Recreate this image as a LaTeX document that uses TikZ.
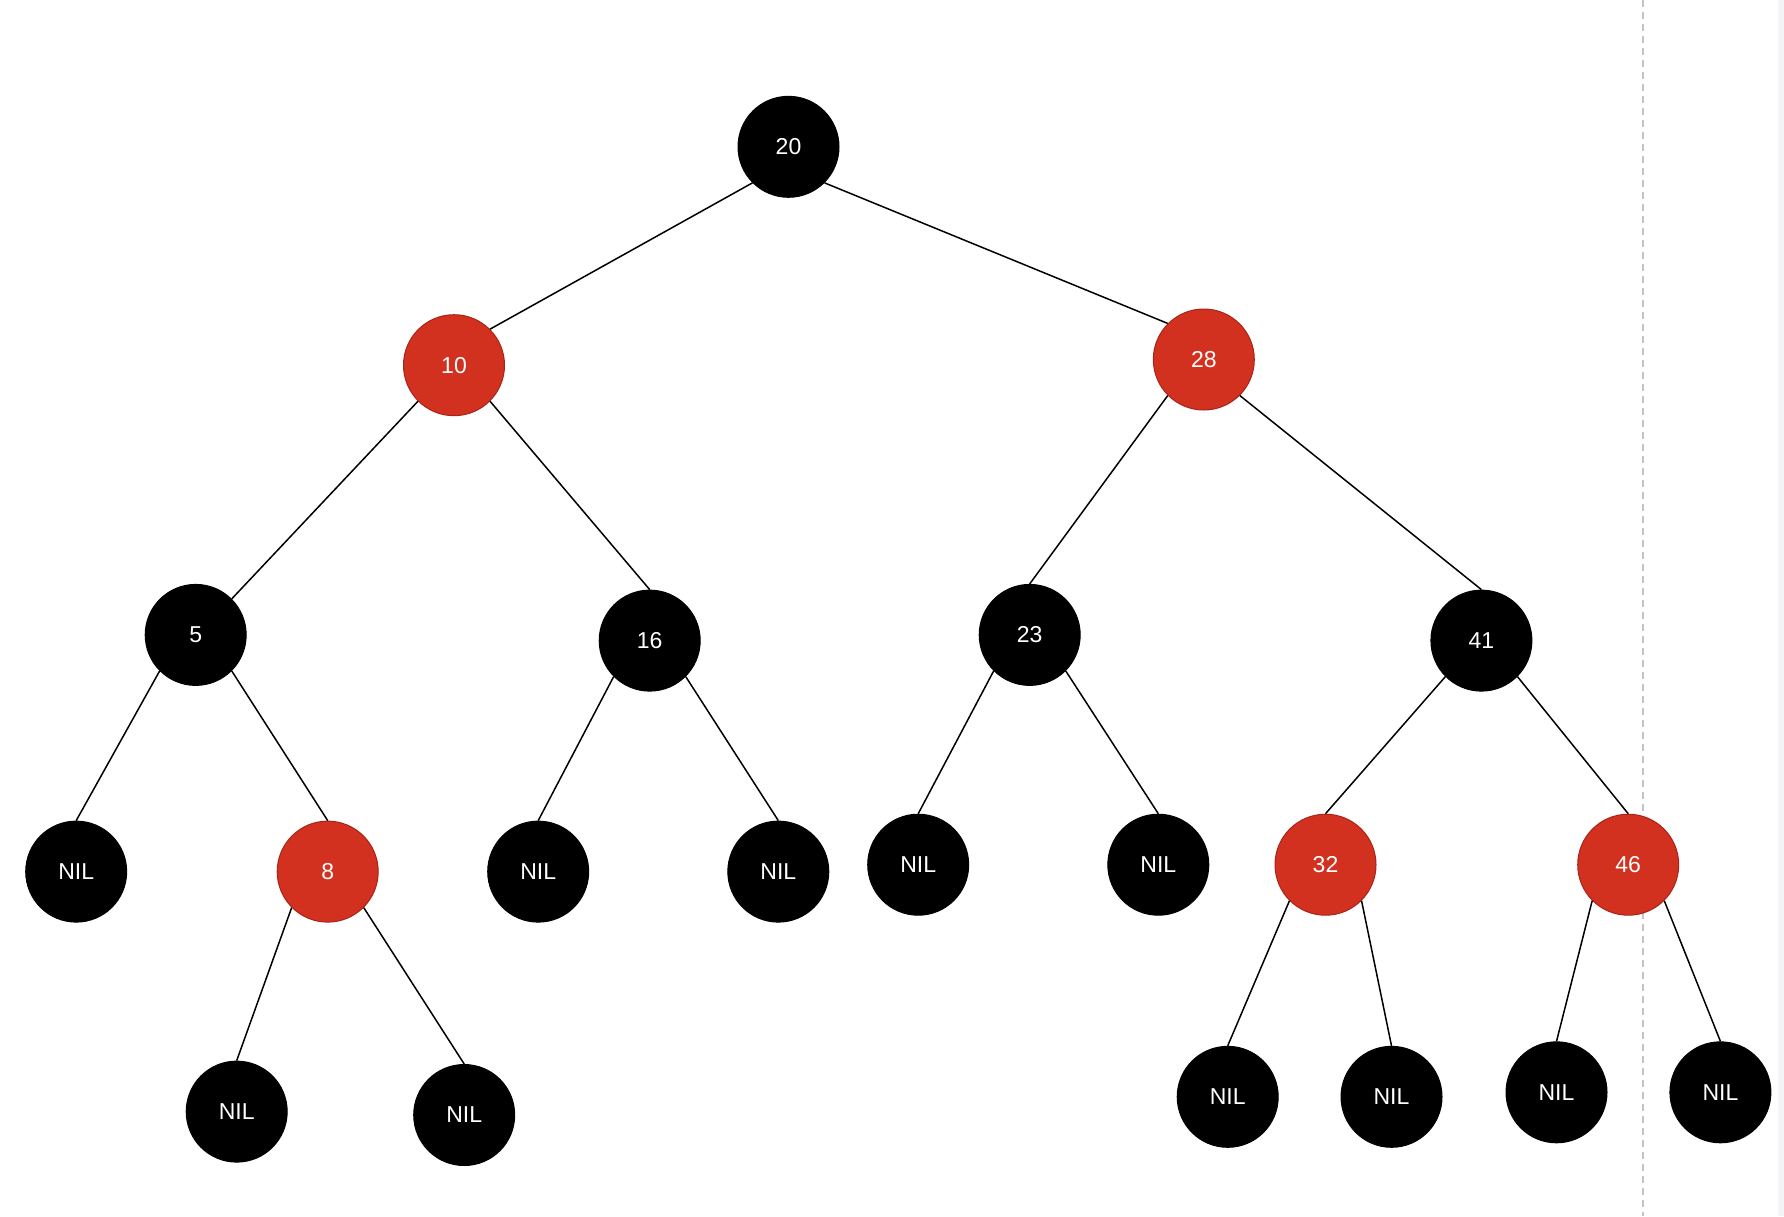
\documentclass[tikz,border=0pt]{standalone}
\usepackage{fontspec}
\setmainfont{Liberation Sans}
\definecolor{rbred}{HTML}{D33120}
\definecolor{rbredline}{HTML}{A82418}
\definecolor{dashgrey}{HTML}{C4C4C4}
\definecolor{edgegrey}{HTML}{F4F4F6}
\begin{document}
\begin{tikzpicture}[x=1pt,y=-1pt,
  blacknode/.style={circle,fill=black,draw=black,line width=1pt,minimum size=101pt,inner sep=0pt,text=white,font=\fontsize{23}{26}\selectfont},
  rednode/.style={circle,fill=rbred,draw=rbredline,line width=1pt,minimum size=101pt,inner sep=0pt,text=white,font=\fontsize{23}{26}\selectfont},
  treeedge/.style={draw=black,line width=1.5pt}]
\useasboundingbox (0,0) rectangle (1784,1216);
\fill[white] (0,0) rectangle (1784,1216);
\fill[edgegrey] (1778,0) rectangle (1784,1216);
\coordinate (dtop) at (1643,0);
\coordinate (dbot) at (1643,1216);
\draw[dashgrey,line width=2pt,dash pattern=on 7pt off 5pt] (dtop) -- (dbot);

\node[blacknode] (n20) at (788.5,146.8) {20};
\node[rednode] (n10) at (454,365.2) {10};
\node[rednode] (n28) at (1203.8,359.5) {28};
\node[blacknode] (n5) at (195.7,634.9) {5};
\node[blacknode] (n16) at (649.7,640.6) {16};
\node[blacknode] (n23) at (1029.7,634.9) {23};
\node[blacknode] (n41) at (1481.4,640.6) {41};
\node[blacknode] (nil1) at (76.2,871.6) {NIL};
\node[rednode] (n8) at (327.7,871.6) {8};
\node[blacknode] (nil2) at (538.2,871.6) {NIL};
\node[blacknode] (nil3) at (778.3,871.6) {NIL};
\node[blacknode] (nil4) at (918.2,864.7) {NIL};
\node[blacknode] (nil5) at (1158.3,864.7) {NIL};
\node[rednode] (n32) at (1325.5,864.7) {32};
\node[rednode] (n46) at (1628.2,864.7) {46};
\node[blacknode] (nil6) at (236.7,1111.6) {NIL};
\node[blacknode] (nil7) at (464.2,1115.0) {NIL};
\node[blacknode] (nil8) at (1227.7,1096.8) {NIL};
\node[blacknode] (nil9) at (1391.5,1096.8) {NIL};
\node[blacknode] (nil10) at (1556.5,1092.3) {NIL};
\node[blacknode] (nil11) at (1720.4,1092.3) {NIL};

\draw[treeedge] (n20.south west) -- (n10.north east);
\draw[treeedge] (n20.south east) -- (n28.north west);
\draw[treeedge] (n10.south west) -- (n5.north east);
\draw[treeedge] (n10.south east) -- (n16.north);
\draw[treeedge] (n28.south west) -- (n23.north);
\draw[treeedge] (n28.south east) -- (n41.north);
\draw[treeedge] (n5.south west) -- (nil1.north);
\draw[treeedge] (n5.south east) -- (n8.north);
\draw[treeedge] (n16.south west) -- (nil2.north);
\draw[treeedge] (n16.south east) -- (nil3.north);
\draw[treeedge] (n23.south west) -- (nil4.north);
\draw[treeedge] (n23.south east) -- (nil5.north);
\draw[treeedge] (n41.south west) -- (n32.north);
\draw[treeedge] (n41.south east) -- (n46.north);
\draw[treeedge] (n8.south west) -- (nil6.north);
\draw[treeedge] (n8.south east) -- (nil7.north);
\draw[treeedge] (n32.south west) -- (nil8.north);
\draw[treeedge] (n32.south east) -- (nil9.north);
\draw[treeedge] (n46.south west) -- (nil10.north);
\draw[treeedge] (n46.south east) -- (nil11.north);
\end{tikzpicture}
\end{document}
